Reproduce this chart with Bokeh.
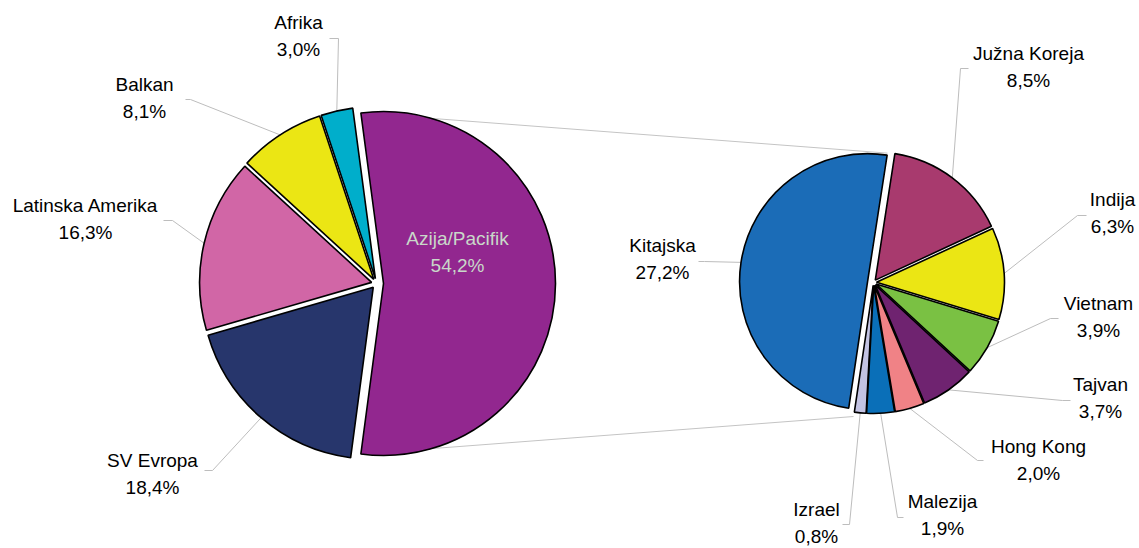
import math
from bokeh.plotting import figure
from bokeh.models import Range1d, ColumnDataSource
from bokeh.embed import file_html
from bokeh.resources import INLINE
from bokeh.core.properties import value

# ---------------- data ----------------
main_labels = ["Azija/Pacifik", "Afrika", "Balkan", "Latinska Amerika", "SV Evropa"]
main_values = [54.2, 3.0, 8.1, 16.3, 18.4]
main_colors = ["#92278F", "#00AECB", "#EBE614", "#D166A6", "#27366C"]

sub_labels = ["Kitajska", "Izrael", "Malezija", "Hong Kong", "Tajvan", "Vietnam", "Indija", "Južna Koreja"]
sub_values = [27.2, 0.8, 1.9, 2.0, 3.7, 3.9, 6.3, 8.5]
sub_colors = ["#1B6CB7", "#C3C3E3", "#0A6FB8", "#F08286", "#6F2370", "#7AC143", "#EBE614", "#A83A6E"]

# ---------------- layout (reference pixel space, y down) ----------------
W, H = 1139, 548
C1 = (376, 283); R1 = 172; EXP1 = 5; EXP1_MAIN = 7
C2 = (873, 282); R2 = 128; EXP2 = 3; EXP2_MAIN = 6
SUB_START = math.radians(81.2)
FONT = value("Liberation Sans")
FSIZE = "19px"
LINE_GAP = 27
MID = 7          # baseline -> visual middle of the text line
LEADER = "#BDBDBD"

# label centre x, name baseline y, leader (label end, elbow)
label_layout = {
    "Azija/Pacifik": (457, 245, None),
    "Afrika": (298, 29, [(329, 38), (338, 38)]),
    "Balkan": (144, 91, [(185, 99), (190, 99)]),
    "Latinska Amerika": (85, 212, [(163, 220), (172, 220)]),
    "SV Evropa": (152, 467, [(204, 470), (212, 470)]),
    "Kitajska": (662, 252, [(698, 261), (704, 261)]),
    "Južna Koreja": (1028, 60, [(968, 68), (960, 68)]),
    "Indija": (1112, 206, [(1086, 215), (1077, 215)]),
    "Vietnam": (1098, 310, [(1058, 318), (1050, 318)]),
    "Tajvan": (1100, 391, [(1070, 400), (1062, 400)]),
    "Hong Kong": (1038, 453, [(983, 460), (977, 460)]),
    "Malezija": (942, 508, [(903, 517), (897, 517)]),
    "Izrael": (816, 516, [(842, 524), (849, 524)]),
}


def fmt(v):
    return ("%.1f" % v).replace(".", ",") + "%"


def slices(values, start, cx, cy, exp, exp_first):
    total = sum(values)
    a = start
    out = []
    for i, v in enumerate(values):
        span = v / total * 2 * math.pi
        mid = a + span / 2
        e = exp_first if i == 0 else exp
        x = cx + e * math.cos(mid)
        y = -cy + e * math.sin(mid)
        out.append((x, y, a, a + span, mid))
        a += span
    return out


main_half = main_values[0] / sum(main_values) * math.pi
main_sl = slices(main_values, -main_half, C1[0], C1[1], EXP1, EXP1_MAIN)
sub_sl = slices(sub_values, SUB_START, C2[0], C2[1], EXP2, EXP2_MAIN)

p = figure(width=W, height=H, output_backend="svg", toolbar_location=None,
           x_range=Range1d(0, W), y_range=Range1d(-H, 0), min_border=0)
p.axis.visible = False
p.grid.visible = False
p.outline_line_color = None
p.background_fill_color = "white"
p.border_fill_color = "white"

# series lines between the two pies (drawn below)
ax, ay, a0, a1, _ = main_sl[0]
kx, ky, k_start, k_end, _ = sub_sl[0]
top_l = (ax + R1 * math.cos(a1), ay + R1 * math.sin(a1))
bot_l = (ax + R1 * math.cos(a0), ay + R1 * math.sin(a0))
top_r = (kx + (R2 + 2) * math.cos(k_start), ky + (R2 + 2) * math.sin(k_start))
rr = R2 + 7.5
bot_r = (C2[0] + rr * math.cos(k_end), -C2[1] + rr * math.sin(k_end))
p.multi_line(xs=[[top_l[0], top_r[0]], [bot_l[0], bot_r[0]]],
             ys=[[top_l[1], top_r[1]], [bot_l[1], bot_r[1]]],
             line_color="#C4C4C4", line_width=1)

# leader lines
lx, ly = [], []
for labels, sl, R in ((main_labels, main_sl, R1), (sub_labels, sub_sl, R2)):
    for name, (x, y, s, e, mid) in zip(labels, sl):
        lay = label_layout[name]
        if lay[2] is None:
            continue
        (x0, y0), (x1, y1) = lay[2]
        ex = x + R * math.cos(mid)
        ey = y + R * math.sin(mid)
        lx.append([x0, x1, ex])
        ly.append([-y0, -y1, ey])
p.multi_line(xs=lx, ys=ly, line_color=LEADER, line_width=1)

# pies
for labels, values, colors, sl, R in ((main_labels, main_values, main_colors, main_sl, R1),
                                      (sub_labels, sub_values, sub_colors, sub_sl, R2)):
    src = ColumnDataSource(dict(
        x=[s[0] for s in sl], y=[s[1] for s in sl],
        start=[s[2] for s in sl], end=[s[3] for s in sl],
        color=colors))
    p.wedge(x="x", y="y", radius=R, start_angle="start", end_angle="end",
            fill_color="color", line_color="black", line_width=1.6, source=src)

# labels
for labels, values in ((main_labels, main_values), (sub_labels, sub_values)):
    for name, v in zip(labels, values):
        cx, by, _ = label_layout[name]
        col = "#C9D8C9" if name == "Azija/Pacifik" else "black"
        p.text(x=[cx, cx], y=[-(by - MID), -(by + LINE_GAP - MID)], text=[name, fmt(v)],
               text_font=FONT, text_font_size=FSIZE, text_align="center",
               text_baseline="middle", text_color=col)

open("out.html", "w").write(file_html(p, INLINE))
